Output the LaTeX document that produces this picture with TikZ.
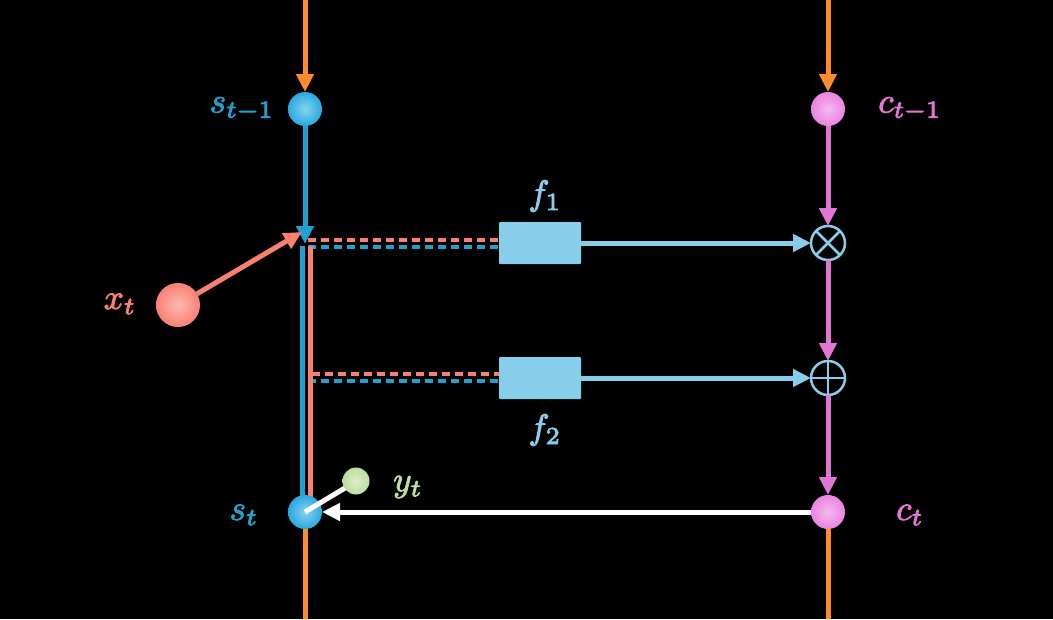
\documentclass[tikz,border=0pt]{standalone}
\usepackage{graphicx}
\usetikzlibrary{arrows.meta,calc}
\definecolor{sblue}{RGB}{35,160,210}
\definecolor{sball}{RGB}{40,170,225}
\definecolor{salmon}{RGB}{250,128,114}
\definecolor{cpink}{RGB}{225,118,212}
\definecolor{cball}{RGB}{235,130,225}
\definecolor{lblue}{RGB}{135,206,235}
\definecolor{orng}{RGB}{255,140,40}
\definecolor{ygreen}{RGB}{190,222,160}
\newcommand{\lblmath}[1]{\special{pdf:code 2 Tr 0.25 w}\scalebox{3.5}{$#1$}\special{pdf:code 0 Tr}}
\tikzset{
  ball/.style={circle,inner color=#1!55!white,outer color=#1,minimum size=34pt,inner sep=0pt,outer sep=0pt},
  lbl/.style={text=#1},
  tri/.style={-{Triangle[length=18pt,width=17pt]}},
  mainline/.style={line width=5pt},
  opnode/.style={circle,draw=lblue,line width=2.5pt,minimum size=34pt,inner sep=0pt,outer sep=0pt},
  fbox/.style={rectangle,fill=lblue,minimum width=82pt,minimum height=42pt,inner sep=0pt,rounded corners=1pt},
  dashln/.style={line width=3.5pt,dash pattern=on 8pt off 5pt}
}
\begin{document}
\begin{tikzpicture}[x=1pt,y=-1pt]
\fill[black] (0,0) rectangle (1053,619);
\useasboundingbox (0,0) rectangle (1053,619);
% coordinates
\coordinate (topL) at (305,0);
\coordinate (topR) at (828,0);
\coordinate (botL) at (305,619);
\coordinate (botR) at (828,619);
\coordinate (jarr) at (305,244);
\coordinate (bstart) at (302,246);
\coordinate (bend) at (302,500);
\coordinate (rstart) at (310,246);
\coordinate (rend) at (310,498);
\coordinate (xarr) at (302,232);
% nodes
\node[ball=sball] (sprev) at (305,109) {};
\node[ball=cball] (cprev) at (828,109) {};
\node[ball=salmon] (xt) at (178,305) [minimum size=44pt] {};
\node[fbox] (f1) at (540,243) {};
\node[fbox] (f2) at (540,378) {};
\node[opnode] (mul) at (828,243) {};
\node[opnode] (add) at (828,378) {};
\node[ball=cball] (ct) at (828,512) {};
% labels
\node[lbl=sblue] (lsprev) at (242,109) {\lblmath{s_{t-1}}};
\node[lbl=cpink] (lcprev) at (910,109) {\lblmath{c_{t-1}}};
\node[lbl=salmon] (lxt) at (120,304) {\lblmath{x_t}};
\node[lbl=lblue] (lf1) at (545,196) {\lblmath{f_1}};
\node[lbl=lblue] (lf2) at (545,430) {\lblmath{f_2}};
\node[lbl=sblue] (lst) at (244,515) {\lblmath{s_t}};
\node[lbl=cpink] (lct) at (910,515) {\lblmath{c_t}};
\node[lbl=ygreen] (lyt) at (408,487) {\lblmath{y_t}};
% orange lines
\draw[mainline,orng,tri] (topL) -- (sprev.north);
\draw[mainline,orng,tri] (topR) -- (cprev.north);
\draw[mainline,orng] (ct.south) -- (botR);
% dashed
\draw[dashln,salmon] (308,240) -- (f1.west |- 0,240);
\draw[dashln,sblue] (308,247) -- (f1.west |- 0,247);
\draw[dashln,salmon] (312,374) -- (f2.west |- 0,374);
\draw[dashln,sblue] (308,381) -- (f2.west |- 0,381);
% left vertical lines
\draw[mainline,sblue,tri] (sprev.south) -- (jarr);
\draw[mainline,salmon] (rstart) -- (rend);
\draw[mainline,sblue] (bstart) -- (bend);
\draw[mainline,salmon,tri] (xt) -- (xarr);
% f arrows
\draw[mainline,lblue,tri] (f1.east) -- (mul.west);
\draw[mainline,lblue,tri] (f2.east) -- (add.west);
% pink
\draw[mainline,cpink,tri] (cprev.south) -- (mul.north);
\draw[mainline,cpink,tri] (mul.south) -- (add.north);
\draw[mainline,cpink,tri] (add.south) -- (ct.north);
% op symbols
\draw[lblue,line width=2.5pt] (mul.north east) -- (mul.south west);
\draw[lblue,line width=2.5pt] (mul.north west) -- (mul.south east);
\draw[lblue,line width=2.5pt] (add.north) -- (add.south);
\draw[lblue,line width=2.5pt] (add.west) -- (add.east);
% bottom
\node[ball=sball] (st) at (305,512) {};
\draw[mainline,orng] (st.south) -- (botL);
\draw[mainline,white,tri] (ct.west) -- (st.east);
\draw[mainline,white] (st.center) -- (350,485);
\node[ball=ygreen,minimum size=27pt] (yt) at (356,481) {};
\end{tikzpicture}
\end{document}
